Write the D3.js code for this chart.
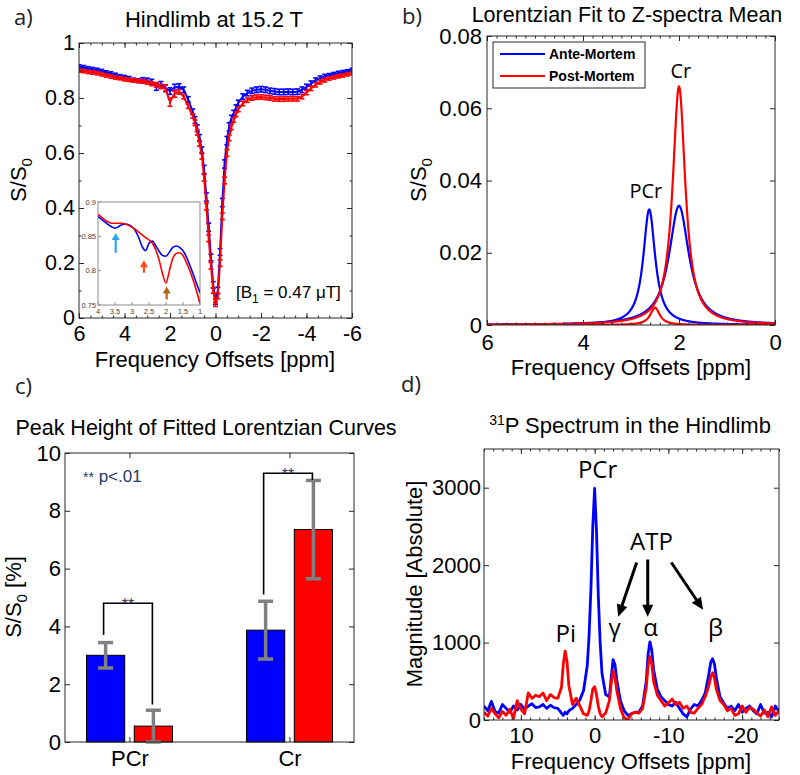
<!DOCTYPE html>
<html><head><meta charset="utf-8">
<script src="https://cdn.jsdelivr.net/npm/d3@7"></script>
<style>body{margin:0;background:#fff}</style>
</head><body><svg id="c" width="800" height="775"></svg>
<script>
// ---------------- DATA ----------------
// Panel a: Z-spectra (ppm, S/S0)
const aOffsets = [
 6.0,5.8,5.6,5.4,5.2,5.0,4.8,4.6,4.4,4.2,
 4.0,3.8,3.6,3.4,3.2,3.0,2.8,2.6,2.4,2.2,
 2.0,1.8,1.6,1.4,1.2,1.0,0.9,0.8,0.7,0.6,
 0.5,0.4,0.3,0.2,0.1,0.0,-0.1,-0.2,-0.3,-0.4,
 -0.5,-0.6,-0.7,-0.8,-0.9,-1.0,-1.2,-1.4,-1.6,-1.8,
 -2.0,-2.2,-2.4,-2.6,-2.8,-3.0,-3.2,-3.4,-3.6,-3.8,
 -4.0,-4.2,-4.4,-4.6,-4.8,-5.0,-5.2,-5.4,-5.6,-5.8,
 -6.0];
const aBlue = [
 0.915,0.912,0.908,0.905,0.902,0.898,0.893,0.889,0.884,0.879,
 0.876,0.872,0.866,0.863,0.866,0.864,0.858,0.840,0.848,0.836,
 0.825,0.838,0.842,0.830,0.795,0.750,0.720,0.690,0.655,0.610,
 0.540,0.440,0.330,0.220,0.120,0.060,0.100,0.240,0.420,0.560,
 0.645,0.695,0.725,0.745,0.765,0.782,0.805,0.818,0.826,0.830,
 0.832,0.830,0.826,0.824,0.822,0.822,0.823,0.822,0.823,0.830,
 0.840,0.852,0.865,0.872,0.878,0.883,0.887,0.891,0.894,0.897,
 0.902];
const aRed = [
 0.900,0.898,0.895,0.893,0.890,0.886,0.882,0.878,0.874,0.872,
 0.868,0.866,0.864,0.862,0.860,0.857,0.852,0.848,0.842,0.835,
 0.785,0.815,0.822,0.805,0.770,0.735,0.710,0.675,0.635,0.590,
 0.510,0.405,0.290,0.190,0.100,0.050,0.080,0.200,0.370,0.500,
 0.600,0.655,0.695,0.720,0.740,0.758,0.780,0.792,0.800,0.803,
 0.804,0.802,0.800,0.797,0.796,0.796,0.797,0.797,0.797,0.805,
 0.820,0.835,0.848,0.858,0.865,0.871,0.875,0.879,0.882,0.886,
 0.890];
const aBlueErr = [
 0.006,0.006,0.006,0.006,0.006,0.006,0.006,0.006,0.006,0.006,
 0.006,0.006,0.006,0.007,0.008,0.008,0.010,0.012,0.012,0.012,
 0.012,0.012,0.010,0.010,0.010,0.010,0.012,0.012,0.012,0.012,
 0.015,0.015,0.015,0.012,0.012,0.010,0.012,0.012,0.015,0.015,
 0.015,0.015,0.012,0.010,0.010,0.010,0.010,0.010,0.010,0.010,
 0.010,0.010,0.010,0.010,0.010,0.010,0.010,0.010,0.010,0.010,
 0.010,0.010,0.008,0.008,0.008,0.006,0.006,0.006,0.006,0.006,
 0.006];
const aRedErr = [
 0.006,0.006,0.006,0.006,0.006,0.006,0.006,0.006,0.006,0.006,
 0.006,0.006,0.006,0.006,0.006,0.007,0.007,0.008,0.008,0.012,
 0.015,0.012,0.008,0.008,0.008,0.008,0.010,0.010,0.010,0.012,
 0.012,0.012,0.012,0.012,0.010,0.008,0.010,0.012,0.012,0.012,
 0.012,0.010,0.010,0.008,0.008,0.008,0.008,0.008,0.008,0.008,
 0.008,0.008,0.008,0.008,0.008,0.008,0.008,0.008,0.008,0.008,
 0.008,0.008,0.008,0.007,0.007,0.006,0.006,0.006,0.006,0.006,
 0.006];
const aTicksX = [6,4,2,0,-2,-4,-6];
const aTicksY = [0,0.2,0.4,0.6,0.8,1];
// Panel a inset
const insetPpm = [4.0,3.9,3.8,3.7,3.6,3.5,3.4,3.3,3.2,3.1,3.0,2.9,2.8,2.7,2.6,2.5,2.4,2.3,2.2,2.1,2.0,1.9,1.8,1.7,1.6,1.5,1.4,1.3,1.2,1.1,1.0];
const insetBlue = [0.879,0.875,0.871,0.867,0.864,0.862,0.864,0.867,0.868,0.867,0.864,0.858,0.848,0.835,0.829,0.840,0.843,0.836,0.828,0.822,0.821,0.827,0.834,0.836,0.834,0.829,0.820,0.808,0.795,0.781,0.768];
const insetRed  = [0.882,0.878,0.874,0.871,0.869,0.869,0.869,0.869,0.868,0.866,0.863,0.860,0.856,0.852,0.848,0.845,0.840,0.830,0.815,0.795,0.782,0.800,0.818,0.825,0.826,0.822,0.812,0.800,0.786,0.770,0.752];
const insetTicksX = [4,3.5,3,2.5,2,1.5,1];
const insetTicksY = [0.75,0.8,0.85,0.9];
const insetArrowPpm = [3.48, 2.65, 1.98];
const insetArrowTail = [0.826, 0.797, 0.758];
const insetArrowTip = [0.855, 0.815, 0.777];
const insetArrowColors = ["#2aa9e6", "#ff4a1c", "#b5651d"];

// Panel b: Lorentzian fit parameters (center ppm, amplitude, half width)
const bSeries = ["Ante-Mortem", "Post-Mortem"];
const bCenters = [[2.62, 2.0], [2.5, 2.0]];
const bAmps = [[0.032, 0.033], [0.0048, 0.066]];
const bHalfWidths = [[0.15, 0.25], [0.12, 0.16]];
const bTicksX = [6,4,2,0];
const bTicksY = [0,0.02,0.04,0.06,0.08];

// Panel c: bars
const cCats = ["PCr", "Cr"];
const cAnte = [3.0, 3.87];
const cPost = [0.55, 7.35];
const cAnteErr = [0.44, 1.0];
const cPostErr = [0.55, 1.7];
const cSigTop = [4.8, 9.3];
const cSigLeftEnd = [3.7, 5.1];
const cSigRightEnd = [1.3, 9.07];
const cTicksY = [0,2,4,6,8,10];

// Panel d: 31P spectrum
const dPpm = [
 15,14.5,14,13.5,13,12.5,12,11.5,11,10.5,
 10,9.5,9,8.5,8,7.5,7,6.5,6,5.5,
 5,4.5,4.25,4,3.75,3.5,3,2.5,2,1.5,
 1,0.75,0.5,0.25,0,-0.25,-0.5,-0.75,-1,-1.5,
 -2,-2.25,-2.5,-2.75,-3,-3.5,-4,-4.5,-5,-5.5,
 -6,-6.5,-7,-7.25,-7.5,-7.75,-8,-8.5,-9,-9.5,
 -10,-10.5,-11,-11.5,-12,-12.5,-13,-13.5,-14,-14.5,
 -15,-15.5,-15.75,-16,-16.25,-16.5,-17,-17.5,-18,-18.5,
 -19,-19.5,-20,-20.5,-21,-21.5,-22,-22.5,-23,-23.5,
 -24,-24.5,-25];
const dBlue = [
 180,120,240,110,90,200,150,100,180,130,
 200,140,180,210,160,170,200,150,190,160,
 150,90,60,100,80,120,150,200,260,380,
 700,1100,1700,2500,2990,2450,1600,1000,600,330,
 300,550,780,720,520,250,120,60,80,100,
 100,180,500,850,1010,900,650,400,300,250,
 200,180,230,150,80,40,140,200,180,250,
 350,600,750,790,720,550,300,220,150,180,
 120,200,100,150,180,120,80,200,90,100,
 40,180,110];
const dRed = [
 100,50,150,80,30,110,60,140,20,250,
 140,80,350,280,320,300,350,250,330,290,
 280,420,720,890,760,450,200,280,180,80,
 60,120,250,400,430,330,180,80,40,90,
 250,480,630,560,380,150,30,0,80,100,
 90,150,420,700,820,720,500,320,250,180,
 220,270,200,230,150,180,100,90,150,200,
 300,450,560,610,540,400,250,200,120,150,
 60,80,180,100,160,140,90,50,130,40,
 170,60,120];
const dTicksX = [10,0,-10,-20];
const dTicksY = [0,1000,2000,3000];
const dLabels = ["PCr","ATP","Pi","γ","α","β"];
const dLabelPpm = [-0.4, -7.7, 3.9, -2.7, -7.6, -16.4];
const dLabelVal = [3126, 2196, 1008, 1085, 1085, 1085];
const dArrowTail = [[-5.7, 2034], [-7.2, 2073], [-10.4, 2034]];
const dArrowHead = [[-3.2, 1334], [-7.2, 1334], [-14.7, 1425]];

// ---------------- DRAW ----------------
const BLUE = "#0000ff", RED = "#ff0000", AX = "#262626";
const SANS = "'Liberation Sans', Arial, sans-serif";
const OPEN = "'Open Sans', 'Noto Sans', sans-serif";
const svg = d3.select("#c");
svg.append("rect").attr("width", 800).attr("height", 775).attr("fill", "#fff");
const defs = svg.append("defs");
const fmt = d => String(d);

function clip(id, x, y, w, h) {
  defs.append("clipPath").attr("id", id).append("rect")
    .attr("x", x).attr("y", y).attr("width", w).attr("height", h);
  return `url(#${id})`;
}

function frame(x, y, o) {
  const xr = x.range(), yr = y.range();
  const L = Math.min(xr[0], xr[1]), R = Math.max(xr[0], xr[1]);
  const T = Math.min(yr[0], yr[1]), B = Math.max(yr[0], yr[1]);
  const g = svg.append("g");
  const fs = o.fs || 22;
  const ax = (gen, tr) => {
    const a = g.append("g").attr("transform", tr).call(gen);
    a.attr("font-family", SANS);
    a.select(".domain").remove();
    a.selectAll(".tick line").attr("stroke", AX);
    a.selectAll("text").attr("fill", "#000").style("font-size", fs + "px");
    return a;
  };
  if (o.xm) {
    ax(d3.axisBottom(x).tickValues(o.xm).tickFormat("").tickSize(-2.5), `translate(0,${B})`);
    ax(d3.axisTop(x).tickValues(o.xm).tickFormat("").tickSize(-2.5), `translate(0,${T})`);
  }
  if (o.ym) {
    ax(d3.axisLeft(y).tickValues(o.ym).tickFormat("").tickSize(-2.5), `translate(${L},0)`);
    ax(d3.axisRight(y).tickValues(o.ym).tickFormat("").tickSize(-2.5), `translate(${R},0)`);
  }
  ax(d3.axisBottom(x).tickValues(o.xt).tickFormat(o.xf || fmt).tickSize(-5).tickPadding(o.xp), `translate(0,${B})`);
  ax(d3.axisTop(x).tickValues(o.xt).tickFormat("").tickSize(-5), `translate(0,${T})`);
  ax(d3.axisLeft(y).tickValues(o.yt).tickFormat(o.yf || fmt).tickSize(-5).tickPadding(o.yp), `translate(${L},0)`);
  ax(d3.axisRight(y).tickValues(o.yt).tickFormat("").tickSize(-5), `translate(${R},0)`);
  g.append("rect").attr("x", L).attr("y", T).attr("width", R - L).attr("height", B - T)
    .attr("fill", "none").attr("stroke", AX).attr("stroke-width", 1);
  return {L, R, T, B};
}

function txt(x, y, s, o = {}) {
  return svg.append("text").attr("x", x).attr("y", y).text(s)
    .attr("font-family", o.ff || SANS).attr("font-size", o.fs || 22)
    .attr("text-anchor", o.anchor || "start").attr("fill", o.fill || "#000")
    .attr("font-weight", o.fw || "normal");
}

function ylabel(cx, cy, parts) {
  const t = svg.append("text").attr("transform", `translate(${cx},${cy}) rotate(-90)`)
    .attr("text-anchor", "middle").attr("font-family", SANS).attr("font-size", 22).attr("fill", "#000");
  parts.forEach(p => {
    const ts = t.append("tspan").text(p.t);
    if (p.fs) ts.attr("font-size", p.fs);
    if (p.dy) ts.attr("dy", p.dy);
  });
  return t;
}

function arrow(g, x1, y1, x2, y2, color, sw, hl, hw) {
  const dx = x2 - x1, dy = y2 - y1, len = Math.hypot(dx, dy), ux = dx / len, uy = dy / len;
  const bx = x2 - ux * hl, by = y2 - uy * hl, px = -uy, py = ux;
  g.append("line").attr("x1", x1).attr("y1", y1).attr("x2", bx + ux).attr("y2", by + uy)
    .attr("stroke", color).attr("stroke-width", sw);
  g.append("path").attr("d", `M${x2},${y2}L${bx + px * hw / 2},${by + py * hw / 2}L${bx - px * hw / 2},${by - py * hw / 2}Z`)
    .attr("fill", color);
}

// ===== Panel a =====
{
  const x = d3.scaleLinear().domain([6, -6]).range([79, 352]);
  const y = d3.scaleLinear().domain([0, 1]).range([318, 43]);
  const cp = clip("clipA", 79, 43, 273, 275);
  const g = svg.append("g").attr("clip-path", cp);
  const series = [[aBlue, aBlueErr, BLUE], [aRed, aRedErr, RED]];
  series.forEach(([vals, errs, col]) => {
    const line = d3.line().x((d, i) => x(aOffsets[i])).y(d => y(d));
    g.append("path").datum(vals).attr("d", line).attr("fill", "none").attr("stroke", col).attr("stroke-width", 2);
    const eb = g.append("g").attr("stroke", col).attr("stroke-width", 1.6);
    vals.forEach((v, i) => {
      const xx = x(aOffsets[i]), lo = y(v - errs[i]), hi = y(v + errs[i]);
      eb.append("line").attr("x1", xx).attr("x2", xx).attr("y1", lo).attr("y2", hi);
      eb.append("line").attr("x1", xx - 2.5).attr("x2", xx + 2.5).attr("y1", lo).attr("y2", lo);
      eb.append("line").attr("x1", xx - 2.5).attr("x2", xx + 2.5).attr("y1", hi).attr("y2", hi);
    });
  });
  frame(x, y, {xt: aTicksX, yt: aTicksY, xp: 7.5, yp: 4, fs: 21.5,
    xm: d3.range(-6, 6.01, 0.5), ym: d3.range(0, 1.01, 0.1)});

  // inset
  const ix = d3.scaleLinear().domain([4, 1]).range([98, 200]);
  const iy = d3.scaleLinear().domain([0.75, 0.9]).range([305, 202]);
  svg.append("rect").attr("x", 98).attr("y", 202).attr("width", 102).attr("height", 103)
    .attr("fill", "#fff").attr("stroke", "#8c8c8c").attr("stroke-width", 1);
  const ig = svg.append("g").attr("clip-path", clip("clipI", 98, 202, 102, 103));
  [[insetBlue, BLUE], [insetRed, RED]].forEach(([vals, col]) => {
    ig.append("path").datum(vals)
      .attr("d", d3.line().x((d, i) => ix(insetPpm[i])).y(d => iy(d)).curve(d3.curveMonotoneX))
      .attr("fill", "none").attr("stroke", col).attr("stroke-width", 1.6);
  });
  const itg = svg.append("g").attr("font-family", SANS).attr("font-size", 7.5).attr("fill", "#444");
  insetTicksX.forEach(t => {
    svg.append("line").attr("x1", ix(t)).attr("x2", ix(t)).attr("y1", 305).attr("y2", 302).attr("stroke", "#8c8c8c");
    itg.append("text").attr("x", ix(t)).attr("y", 313.5).attr("text-anchor", "middle").text(fmt(t));
  });
  insetTicksY.forEach(t => {
    svg.append("line").attr("x1", 98).attr("x2", 101).attr("y1", iy(t)).attr("y2", iy(t)).attr("stroke", "#8c8c8c");
    itg.append("text").attr("x", 96).attr("y", iy(t) + 2.5).attr("text-anchor", "end").text(fmt(t));
  });
  const ag = svg.append("g");
  insetArrowPpm.forEach((p, i) => {
    arrow(ag, ix(p), iy(insetArrowTail[i]), ix(p), iy(insetArrowTip[i]), insetArrowColors[i], 2.2, 7, 8);
  });

  txt(14, 25, "a)", {ff: OPEN, fs: 22, fill: "#222"});
  txt(214, 27, "Hindlimb at 15.2 T", {anchor: "middle"});
  txt(215, 367, "Frequency Offsets [ppm]", {anchor: "middle"});
  ylabel(26, 180, [{t: "S/S"}, {t: "0", fs: 15, dy: 6}]);
  const bt = txt(236, 298, "[B", {fs: 17});
  bt.append("tspan").text("1").attr("font-size", 12).attr("dy", 5);
  bt.append("tspan").text(" = 0.47 μT]").attr("dy", -5);
}

// ===== Panel b =====
{
  const x = d3.scaleLinear().domain([6, 0]).range([487, 775]);
  const y = d3.scaleLinear().domain([0, 0.08]).range([325, 36]);
  const g = svg.append("g").attr("clip-path", clip("clipB", 487, 36, 288, 289));
  const grid = d3.range(6, -0.0001, -0.005);
  const cols = [BLUE, RED];
  bSeries.forEach((s, si) => {
    bCenters[si].forEach((c, k) => {
      const a = bAmps[si][k], w = bHalfWidths[si][k];
      g.append("path").datum(grid)
        .attr("d", d3.line().x(p => x(p)).y(p => y(a / (1 + ((p - c) / w) ** 2))))
        .attr("fill", "none").attr("stroke", cols[si]).attr("stroke-width", 2.2);
    });
  });
  frame(x, y, {xt: bTicksX, yt: bTicksY, xp: 9, yp: 5, xm: d3.range(0, 6.01, 0.2)});
  // legend
  svg.append("rect").attr("x", 493).attr("y", 42).attr("width", 152).attr("height", 46)
    .attr("fill", "#fff").attr("stroke", AX).attr("stroke-width", 1);
  bSeries.forEach((s, i) => {
    const yy = 54 + i * 22;
    svg.append("line").attr("x1", 500).attr("x2", 545).attr("y1", yy).attr("y2", yy)
      .attr("stroke", cols[i]).attr("stroke-width", 2.2);
    txt(549, yy + 5, s, {fs: 14, fw: "bold"});
  });
  txt(x(2.69), y(0.0352), "PCr", {ff: OPEN, fs: 20, anchor: "middle"});
  txt(x(1.96), y(0.0684), "Cr", {ff: OPEN, fs: 20, anchor: "middle"});
  txt(402, 24, "b)", {ff: OPEN, fs: 22, fill: "#222"});
  txt(627, 22, "Lorentzian Fit to Z-spectra Mean", {anchor: "middle", fs: 21.5});
  txt(631, 375, "Frequency Offsets [ppm]", {anchor: "middle"});
  ylabel(426, 180, [{t: "S/S"}, {t: "0", fs: 15, dy: 6}]);
}

// ===== Panel c =====
{
  const x = d3.scalePoint().domain(cCats).range([65, 354]).padding(0.403);
  const xs = d3.scaleBand().domain(bSeries).range([-43, 43]).paddingInner(0.2);
  const y = d3.scaleLinear().domain([0, 10]).range([742, 453]);
  const vals = [cAnte, cPost], errs = [cAnteErr, cPostErr], cols = [BLUE, RED];
  bSeries.forEach((s, si) => {
    cCats.forEach((c, ci) => {
      const bx = x(c) + xs(s);
      svg.append("rect").attr("x", bx).attr("y", y(vals[si][ci])).attr("width", xs.bandwidth())
        .attr("height", y(0) - y(vals[si][ci])).attr("fill", cols[si]).attr("stroke", "#000").attr("stroke-width", 1);
    });
  });
  bSeries.forEach((s, si) => {
    cCats.forEach((c, ci) => {
      const cx = x(c) + xs(s) + xs.bandwidth() / 2;
      const lo = y(Math.max(0, vals[si][ci] - errs[si][ci])), hi = y(vals[si][ci] + errs[si][ci]);
      const eg = svg.append("g").attr("stroke", "#808080").attr("stroke-width", 3.5);
      eg.append("line").attr("x1", cx).attr("x2", cx).attr("y1", lo).attr("y2", hi);
      eg.append("line").attr("x1", cx - 7.5).attr("x2", cx + 7.5).attr("y1", lo).attr("y2", lo);
      eg.append("line").attr("x1", cx - 7.5).attr("x2", cx + 7.5).attr("y1", hi).attr("y2", hi);
    });
  });
  frame(x, y, {xt: cCats, yt: cTicksY, xp: 8, yp: 4});
  // significance brackets
  cCats.forEach((c, ci) => {
    const xl = x(c) + xs(bSeries[0]) + xs.bandwidth() / 2 - 2;
    const xr = x(c) + xs(bSeries[1]) + xs.bandwidth() / 2 - 1;
    svg.append("path")
      .attr("d", `M${xl},${y(cSigLeftEnd[ci])}V${y(cSigTop[ci])}H${xr}V${y(cSigRightEnd[ci])}`)
      .attr("fill", "none").attr("stroke", "#000").attr("stroke-width", 1.6);
    txt((xl + xr) / 2, y(cSigTop[ci]) + 7, "**", {fs: 16, anchor: "middle", fill: "#1f3864"});
  });
  const pt = txt(83, 482, "**", {fs: 14, fill: "#1f3864"});
  pt.append("tspan").text(" p<.01").attr("font-size", 17);
  txt(15, 394, "c)", {ff: OPEN, fs: 22, fill: "#222"});
  txt(206, 435, "Peak Height of Fitted Lorentzian Curves", {anchor: "middle", fs: 21.5});
  ylabel(21, 597, [{t: "S/S"}, {t: "0", fs: 15, dy: 6}, {t: " [%]", dy: -6}]);
}

// ===== Panel d =====
{
  const x = d3.scaleLinear().domain([15, -25]).range([484, 779]);
  const y = d3.scaleLinear().domain([0, 3500]).range([720, 449]);
  const g = svg.append("g").attr("clip-path", clip("clipD", 484, 449, 295, 271));
  [[dBlue, BLUE], [dRed, RED]].forEach(([vals, col]) => {
    g.append("path").datum(vals)
      .attr("d", d3.line().x((d, i) => x(dPpm[i])).y(d => y(d)))
      .attr("fill", "none").attr("stroke", col).attr("stroke-width", 2.8).attr("stroke-linejoin", "round");
  });
  frame(x, y, {xt: dTicksX, yt: dTicksY, xp: 7, yp: 3, xm: d3.range(-25, 15.01, 1.25)});
  dLabels.forEach((l, i) => txt(x(dLabelPpm[i]), y(dLabelVal[i]), l, {ff: OPEN, fs: 24, anchor: "middle"}));
  const ag = svg.append("g");
  dArrowTail.forEach((t, i) => {
    const h = dArrowHead[i];
    arrow(ag, x(t[0]), y(t[1]), x(h[0]), y(h[1]), "#000", 3, 12, 11);
  });
  txt(401, 392, "d)", {ff: OPEN, fs: 22, fill: "#222"});
  const tt = txt(630, 433, "", {anchor: "middle"});
  tt.append("tspan").text("31").attr("font-size", 14).attr("dy", -8);
  tt.append("tspan").text("P Spectrum in the Hindlimb").attr("dy", 8);
  txt(631, 769, "Frequency Offsets [ppm]", {anchor: "middle"});
  ylabel(422, 584, [{t: "Magnitude [Absolute]"}]);
}
</script></body></html>
